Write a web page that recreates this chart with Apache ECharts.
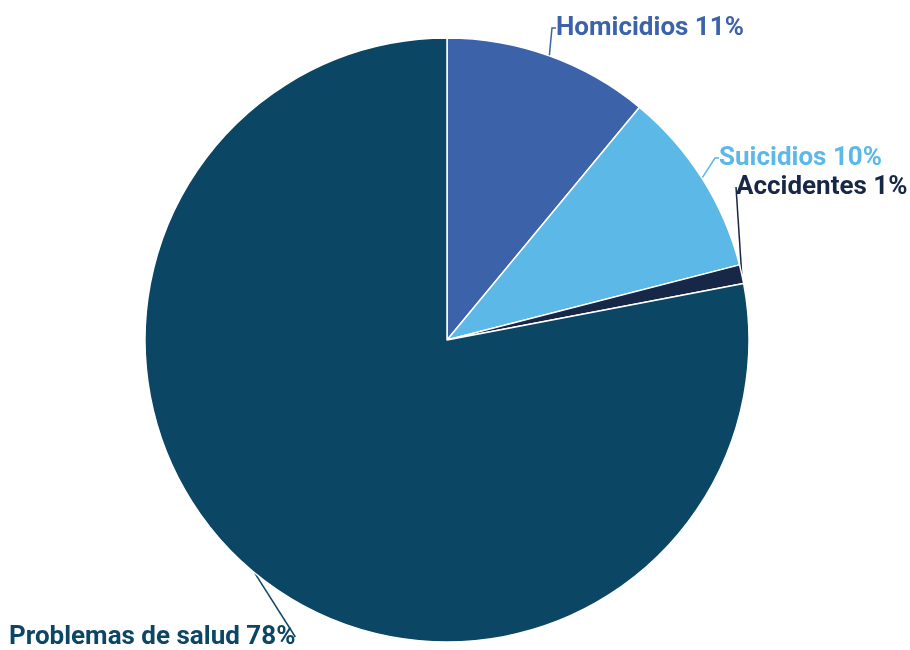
<!DOCTYPE html>
<html>
<head>
<meta charset="utf-8">
<script src="https://cdn.jsdelivr.net/npm/echarts@6/dist/echarts.min.js"></script>
<style>
  html, body { margin: 0; padding: 0; background: #ffffff; }
  #chart { width: 910px; height: 650px; }
</style>
</head>
<body>
<div id="chart"></div>
<script>
var categories = ['Homicidios', 'Suicidios', 'Accidentes', 'Problemas de salud']
var values = [11, 10, 1, 78]
var colors = ['#3c63a9', '#5cb8e6', '#172747', '#0c4665']

// where each label sits (text anchor left / vertical middle)
var labelSpots = [
  { x: 556, y: 28 },
  { x: 719, y: 158 },
  { x: 736, y: 187 },
  { x: 9, y: 637 }
]

var chart = echarts.init(document.getElementById('chart'))

var data = categories.map(function (name, i) {
  return {
    name: name,
    value: values[i],
    itemStyle: { color: colors[i] },
    label: { color: colors[i] },
    labelLine: { lineStyle: { color: colors[i] } }
  }
})

chart.setOption({
  backgroundColor: '#ffffff',
  animation: false,
  series: [
    {
      type: 'pie',
      center: [447, 340],
      radius: 302,
      startAngle: 90,
      clockwise: true,
      avoidLabelOverlap: false,
      itemStyle: { borderColor: '#ffffff', borderWidth: 1.5 },
      label: {
        show: true,
        position: 'outside',
        formatter: '{b} {c}%',
        fontFamily: 'Roboto',
        fontSize: 26,
        fontWeight: 'bold'
      },
      labelLine: {
        show: true,
        length: 8,
        length2: 4,
        lineStyle: { width: 1.5 }
      },
      labelLayout: function (params) {
        var s = labelSpots[params.dataIndex]
        return { x: s.x, y: s.y, align: 'left', verticalAlign: 'middle' }
      },
      data: data
    }
  ]
})
</script>
</body>
</html>
